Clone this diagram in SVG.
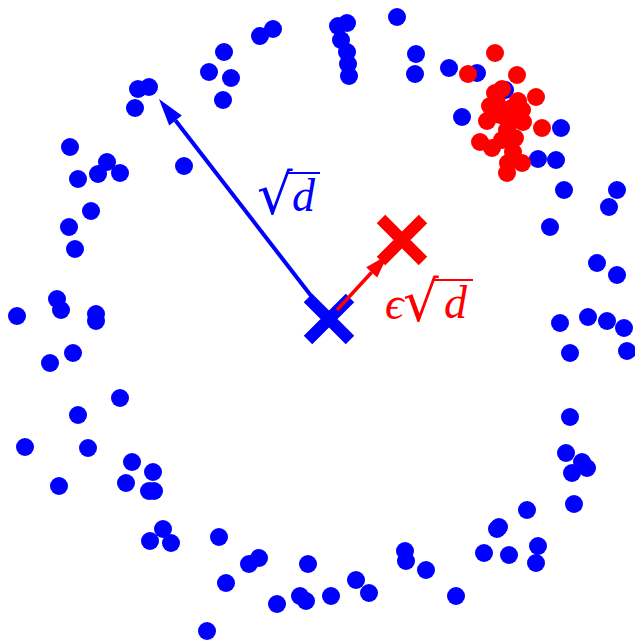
<svg xmlns="http://www.w3.org/2000/svg" width="635" height="642" viewBox="0 0 635 642">
<style>
.b{fill:#0000ff}
.r{fill:#ff0000}
.bx{stroke:#0000ff;stroke-width:12;fill:none}
.rx{stroke:#ff0000;stroke-width:12;fill:none}
.lb{font-family:"Liberation Serif",serif;font-style:italic;font-size:46px}
.sq{font-family:"DejaVu Serif",serif;font-style:normal;font-size:56px}
</style>
<rect width="635" height="642" fill="#ffffff"/>
<g id="blue-points">
<circle class="b" r="9" cx="209" cy="72"/><circle class="b" r="9" cx="138" cy="89"/><circle class="b" r="9" cx="149" cy="87"/><circle class="b" r="9" cx="135" cy="108"/><circle class="b" r="9" cx="70" cy="147"/><circle class="b" r="9" cx="107" cy="162"/><circle class="b" r="9" cx="98" cy="174"/><circle class="b" r="9" cx="120" cy="173"/><circle class="b" r="9" cx="78" cy="179"/><circle class="b" r="9" cx="184" cy="166"/><circle class="b" r="9" cx="91" cy="211"/>
<circle class="b" r="9" cx="224" cy="52"/><circle class="b" r="9" cx="231" cy="78"/><circle class="b" r="9" cx="223" cy="100"/><circle class="b" r="9" cx="260" cy="36"/><circle class="b" r="9" cx="273" cy="29"/><circle class="b" r="9" cx="338" cy="26"/><circle class="b" r="9" cx="347" cy="23"/><circle class="b" r="9" cx="341" cy="40"/><circle class="b" r="9" cx="347" cy="52"/><circle class="b" r="9" cx="348" cy="64"/><circle class="b" r="9" cx="349" cy="76"/><circle class="b" r="9" cx="397" cy="17"/><circle class="b" r="9" cx="416" cy="54"/><circle class="b" r="9" cx="415" cy="74"/>
<circle class="b" r="9" cx="449" cy="68"/><circle class="b" r="9" cx="477" cy="73"/><circle class="b" r="9" cx="505" cy="90"/><circle class="b" r="9" cx="504" cy="116"/><circle class="b" r="9" cx="462" cy="117"/><circle class="b" r="9" cx="561" cy="128"/><circle class="b" r="9" cx="538" cy="159"/><circle class="b" r="9" cx="556" cy="160"/><circle class="b" r="9" cx="564" cy="190"/><circle class="b" r="9" cx="617" cy="190"/><circle class="b" r="9" cx="609" cy="207"/>
<circle class="b" r="9" cx="69" cy="227"/><circle class="b" r="9" cx="75" cy="249"/><circle class="b" r="9" cx="57" cy="299"/><circle class="b" r="9" cx="61" cy="310"/><circle class="b" r="9" cx="17" cy="316"/><circle class="b" r="9" cx="96" cy="314"/><circle class="b" r="9" cx="96" cy="321"/><circle class="b" r="9" cx="73" cy="353"/><circle class="b" r="9" cx="50" cy="363"/><circle class="b" r="9" cx="120" cy="398"/><circle class="b" r="9" cx="78" cy="415"/>
<circle class="b" r="9" cx="550" cy="227"/><circle class="b" r="9" cx="597" cy="263"/><circle class="b" r="9" cx="617" cy="275"/><circle class="b" r="9" cx="560" cy="323"/><circle class="b" r="9" cx="588" cy="317"/><circle class="b" r="9" cx="607" cy="321"/><circle class="b" r="9" cx="624" cy="328"/><circle class="b" r="9" cx="570" cy="353"/><circle class="b" r="9" cx="627" cy="351"/><circle class="b" r="9" cx="570" cy="417"/>
<circle class="b" r="9" cx="25" cy="447"/><circle class="b" r="9" cx="88" cy="448"/><circle class="b" r="9" cx="59" cy="486"/><circle class="b" r="9" cx="132" cy="462"/><circle class="b" r="9" cx="153" cy="472"/><circle class="b" r="9" cx="126" cy="483"/><circle class="b" r="9" cx="149" cy="491"/><circle class="b" r="9" cx="154" cy="491"/><circle class="b" r="9" cx="163" cy="529"/><circle class="b" r="9" cx="150" cy="541"/><circle class="b" r="9" cx="171" cy="543"/><circle class="b" r="9" cx="219" cy="537"/><circle class="b" r="9" cx="207" cy="631"/>
<circle class="b" r="9" cx="249" cy="564"/><circle class="b" r="9" cx="259" cy="558"/><circle class="b" r="9" cx="226" cy="583"/><circle class="b" r="9" cx="308" cy="564"/><circle class="b" r="9" cx="277" cy="604"/><circle class="b" r="9" cx="300" cy="596"/><circle class="b" r="9" cx="306" cy="601"/><circle class="b" r="9" cx="331" cy="596"/><circle class="b" r="9" cx="356" cy="580"/><circle class="b" r="9" cx="369" cy="593"/><circle class="b" r="9" cx="405" cy="551"/><circle class="b" r="9" cx="406" cy="561"/><circle class="b" r="9" cx="426" cy="570"/>
<circle class="b" r="9" cx="566" cy="453"/><circle class="b" r="9" cx="582" cy="462"/><circle class="b" r="9" cx="587" cy="468"/><circle class="b" r="9" cx="572" cy="473"/><circle class="b" r="9" cx="574" cy="504"/><circle class="b" r="9" cx="527" cy="510"/><circle class="b" r="9" cx="499" cy="527"/><circle class="b" r="9" cx="497" cy="529"/><circle class="b" r="9" cx="538" cy="546"/><circle class="b" r="9" cx="536" cy="563"/><circle class="b" r="9" cx="484" cy="553"/><circle class="b" r="9" cx="509" cy="555"/><circle class="b" r="9" cx="456" cy="596"/>
</g>
<g id="red-points">
<circle class="r" r="9" cx="495" cy="53"/><circle class="r" r="9" cx="468" cy="74"/><circle class="r" r="9" cx="517" cy="75"/><circle class="r" r="9" cx="536" cy="97"/><circle class="r" r="9" cx="502" cy="89"/><circle class="r" r="9" cx="495" cy="93"/><circle class="r" r="9" cx="518" cy="101"/><circle class="r" r="9" cx="490" cy="106"/><circle class="r" r="9" cx="522" cy="110"/><circle class="r" r="9" cx="487" cy="121"/><circle class="r" r="9" cx="523" cy="122"/><circle class="r" r="9" cx="542" cy="128"/><circle class="r" r="9" cx="500" cy="115"/><circle class="r" r="9" cx="507" cy="130"/><circle class="r" r="9" cx="515" cy="138"/><circle class="r" r="9" cx="480" cy="142"/><circle class="r" r="9" cx="492" cy="148"/><circle class="r" r="9" cx="502" cy="140"/><circle class="r" r="9" cx="513" cy="152"/><circle class="r" r="9" cx="508" cy="163"/><circle class="r" r="9" cx="522" cy="163"/><circle class="r" r="9" cx="507" cy="173"/><circle class="r" r="9" cx="512" cy="121"/><circle class="r" r="9" cx="497" cy="103"/><circle class="r" r="9" cx="512" cy="108"/>
</g>
<g id="blue-center">
<path class="bx" d="M308 298L350 340M350 298L308 340"/>
</g>
<g id="connectors">
<line x1="329" y1="319" x2="175.5" y2="120.5" stroke="#0000ff" stroke-width="4"/>
<polygon points="159,99 181.8,115.6 169.2,125.4" fill="#0000ff"/>
<line x1="337" y1="310" x2="371.7" y2="272.3" stroke="#ff0000" stroke-width="3.5"/>
<polygon points="388,254.7 377.2,277.4 366.2,267.2" fill="#ff0000"/>
</g>
<g id="red-center">
<path class="rx" d="M381 219L423 261M423 219L381 261"/>
</g>
<g id="label-sqrt-d" fill="#0000ff">
<line x1="286" y1="173" x2="320" y2="173" stroke="#0000ff" stroke-width="2"/>
<text><tspan class="sq" x="257" y="214">√</tspan><tspan class="lb" x="292" y="211">d</tspan></text>
</g>
<g id="label-eps-sqrt-d" fill="#ff0000">
<line x1="432" y1="280" x2="473" y2="280" stroke="#ff0000" stroke-width="2"/>
<text><tspan class="lb" x="385" y="319">ϵ</tspan><tspan class="sq" x="403" y="321">√</tspan><tspan class="lb" x="444" y="318">d</tspan></text>
</g>
</svg>
